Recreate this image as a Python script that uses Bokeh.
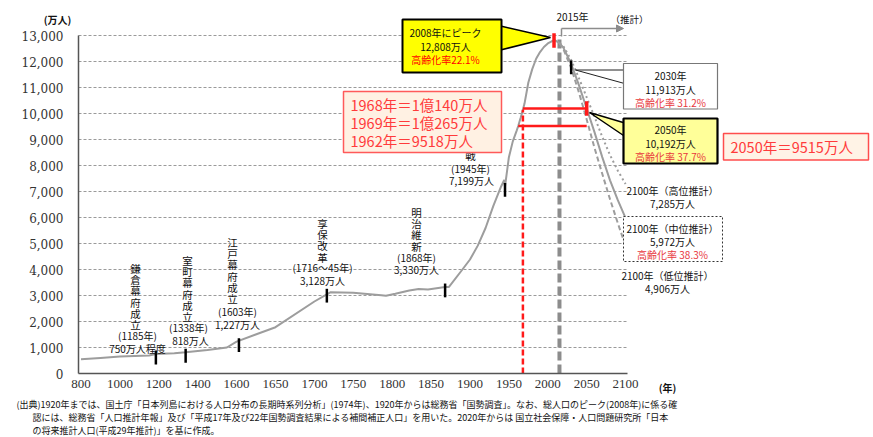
import numpy as np
from bokeh.plotting import figure
from bokeh.models import (Range1d, FixedTicker, Label, BoxAnnotation, PolyAnnotation,
                          Arrow, NormalHead)
from bokeh.embed import file_html
from bokeh.resources import INLINE

JP = "Noto Sans CJK JP"

# ---------------------------------------------------------------- data
# categories shown on the (unevenly spaced) year axis
tick_years = [800, 1000, 1200, 1400, 1600, 1650, 1700, 1750, 1800, 1850,
              1900, 1950, 2000, 2050, 2100]
y_ticks = [0, 1000, 2000, 3000, 4000, 5000, 6000, 7000, 8000, 9000,
           10000, 11000, 12000, 13000]
y_tick_labels = ["0", "1,000", "2,000", "3,000", "4,000", "5,000", "6,000",
                 "7,000", "8,000", "9,000", "10,000", "11,000", "12,000", "13,000"]

# total population (10 thousand persons)
hist_years = [800, 900, 1000, 1150, 1185, 1280, 1338, 1450, 1550, 1600, 1650,
              1700, 1721, 1750, 1786, 1792, 1804, 1822, 1834, 1846, 1868, 1873,
              1890, 1900, 1910, 1920, 1930, 1940, 1944, 1945, 1950, 1955, 1960,
              1962, 1965, 1968, 1969, 1970, 1975, 1980, 1985, 1990, 1995, 2000,
              2005, 2008, 2010, 2015]
hist_pop = [551, 600, 650, 690, 750, 780, 818, 900, 1000, 1227, 1781,
            2769, 3128, 3110, 3010, 2987, 3065, 3191, 3248, 3230, 3330, 3330,
            3990, 4385, 4918, 5596, 6445, 7193, 7443, 7199, 8320, 8928, 9342,
            9518, 9828, 10140, 10265, 10372, 11194, 11706, 12105, 12361, 12557, 12693,
            12777, 12808, 12806, 12709]

proj_years = [2015, 2020, 2030, 2040, 2050, 2060, 2070, 2080, 2090, 2100]
proj_mid = [12709, 12532, 11913, 11092, 10192, 9284, 8323, 7430, 6668, 5972]
proj_high = [12709, 12591, 12060, 11360, 10620, 9880, 9100, 8400, 7800, 7285]
proj_low = [12709, 12475, 11758, 10811, 9770, 8680, 7680, 6700, 5780, 4906]

# historical milestones marked on the curve
event_years = [1185, 1338, 1603, 1716, 1868, 1945, 2030]
event_pop = [750, 818, 1227, 3128, 3330, 7199, 11913]

peak_year, peak_pop = 2008, 12808
base_year = 2015
year_2050, pop_2050, pop_2050_alt = 2050, 10192, 9515
year_1968, year_1962 = 1968, 1962

# ---------------------------------------------------------------- geometry
W, H = 873, 437
LEFT, RIGHT, BOTTOM = 78, 627, 373   # plot area edges (pixels)
STEP = 38.9                          # pixels per axis category
PX_PER_UNIT = 26 / 1000              # pixels per 10k persons
X_LEFT = -2.5 / STEP                 # axis value at the plot area's left edge


def xpos(year):
    return np.interp(year, tick_years, np.arange(len(tick_years)))


def px_x(px):
    return X_LEFT + (px - LEFT) / STEP


def px_y(py):
    return (BOTTOM - py) / PX_PER_UNIT


# the frame fills the page; axes are pinned to the plot area
p = figure(width=W, height=H, x_range=Range1d(px_x(0), px_x(W)),
           y_range=Range1d(px_y(H), px_y(0)),
           output_backend="svg", toolbar_location=None,
           min_border=0, min_border_left=0, min_border_right=0,
           min_border_top=0, min_border_bottom=0)
p.outline_line_color = None
p.background_fill_color = "white"
p.grid.visible = False

for ax in (p.xaxis, p.yaxis):
    ax.axis_line_color = "#555555"
    ax.axis_line_width = 1.5
    ax.major_tick_line_color = None
    ax.minor_tick_line_color = None
    ax.major_tick_out = 0
    ax.major_tick_in = 0
    ax.major_label_text_font_size = "13px"
    ax.major_label_text_color = "#333333"

p.xaxis.major_label_text_font = "Liberation Serif"
p.yaxis.major_label_text_font = "DejaVu Serif"
p.yaxis.major_label_text_font_size = "12px"

p.xaxis.fixed_location = 0
p.xaxis.bounds = (px_x(LEFT), px_x(RIGHT))
p.xaxis.ticker = FixedTicker(ticks=list(range(len(tick_years))))
p.xaxis.major_label_overrides = {i: str(y) for i, y in enumerate(tick_years)}
p.xaxis.major_label_standoff = 6
p.yaxis.fixed_location = px_x(LEFT)
p.yaxis.bounds = (0, y_ticks[-1])
p.yaxis.ticker = FixedTicker(ticks=y_ticks)
p.yaxis.major_label_overrides = dict(zip(y_ticks, y_tick_labels))
p.yaxis.major_label_standoff = 15

GRAY = "#9d9d9d"
RED = "#ff1a1a"

# horizontal grid lines across the plot area
gy = y_ticks[1:]
p.segment(x0=[px_x(LEFT)] * len(gy), y0=gy, x1=[px_x(RIGHT)] * len(gy), y1=gy,
          line_color="#9a9a9a", line_width=1, line_dash="3 2")

# 2015 reference line (start of projections)
p.segment(x0=[xpos(base_year)], y0=[0], x1=[xpos(base_year)], y1=[y_ticks[-1]],
          line_color="#8c8c8c", line_width=4, line_dash="9 4")

# population curves
p.line(xpos(hist_years), hist_pop, line_color=GRAY, line_width=2)
p.line(xpos(proj_years), proj_mid, line_color=GRAY, line_width=2)
p.line(xpos(proj_years), proj_high, line_color=GRAY, line_width=2, line_dash="2 3")
p.line(xpos(proj_years), proj_low, line_color=GRAY, line_width=2, line_dash="5 3")

# comparison lines: 2050 level reached around 1968 / 1962
p.segment(x0=[xpos(year_1968)], y0=[0], x1=[xpos(year_1968)],
          y1=[hist_pop[hist_years.index(year_1968)]],
          line_color=RED, line_width=2.5, line_dash="6 3")
p.segment(x0=[xpos(year_1968), xpos(year_1962)], y0=[pop_2050, pop_2050_alt],
          x1=[xpos(year_2050), xpos(year_2050)], y1=[pop_2050, pop_2050_alt],
          line_color=RED, line_width=2.5)

# milestone ticks
ex = xpos(event_years)
p.segment(x0=ex, y0=np.array(event_pop) - 400, x1=ex, y1=np.array(event_pop) + 130,
          line_color="black", line_width=2.5)
p.segment(x0=[xpos(peak_year), xpos(year_2050)], y0=[peak_pop - 280, pop_2050 - 280],
          x1=[xpos(peak_year), xpos(year_2050)], y1=[peak_pop + 280, pop_2050 + 280],
          line_color=RED, line_width=3.5)


# ---------------------------------------------------------------- annotations
def text(px, py, s, size=10, color="#111111", align="center", bold=False, font=JP):
    p.add_layout(Label(x=px_x(px), y=px_y(py), text=s, text_font=font,
                       text_font_size=f"{size}px", text_color=color,
                       text_align=align, text_baseline="middle",
                       text_font_style="bold" if bold else "normal"))


def vtext(px, py0, s, step=11.2, size=10.5):
    for i, ch in enumerate(s):
        text(px, py0 + i * step, ch, size)


def box(l, t, r, b, fill, line, lw, dash="solid"):
    p.add_layout(BoxAnnotation(left=px_x(l), right=px_x(r), top=px_y(t), bottom=px_y(b),
                               fill_color=fill, fill_alpha=1, line_color=line,
                               line_alpha=1, line_width=lw, line_dash=dash))


def wedge(pts, fill, line, lw):
    p.add_layout(PolyAnnotation(xs=[px_x(a) for a, _ in pts], ys=[px_y(b) for _, b in pts],
                                fill_color=fill, fill_alpha=1, line_color=line,
                                line_alpha=1, line_width=lw))


# unit labels
text(57, 19, "(万人)", 10, bold=True)
text(667, 387, "(年)", 10, bold=True)

# era labels
vtext(135, 268, "鎌倉幕府成立")
text(137, 335, "(1185年)")
text(137, 348, "750万人程度")
vtext(187, 260, "室町幕府成立")
text(188, 327, "(1338年)")
text(190, 340, "818万人")
vtext(232, 242, "江戸幕府成立")
text(237, 311, "(1603年)")
text(237, 323.5, "1,227万人")
vtext(322, 223, "享保改革")
text(322, 267, "(1716～45年)")
text(322, 280, "3,128万人")
vtext(416, 212, "明治維新")
text(416, 257, "(1868年)")
text(416, 269, "3,330万人")
text(470, 155, "戦", 10.5)
text(470, 168, "(1945年)")
text(471, 180, "7,199万人")

# projection start marker
p.add_layout(Arrow(end=NormalHead(size=7, fill_color="#8c8c8c", line_color="#8c8c8c"),
                   x_start=px_x(561), y_start=px_y(28), x_end=px_x(623), y_end=px_y(28),
                   line_color="#8c8c8c", line_width=1.5))
p.add_layout(Arrow(end=None, x_start=px_x(561), y_start=px_y(28), x_end=px_x(561),
                   y_end=px_y(36), line_color="#8c8c8c", line_width=1.5))
text(572, 16, "2015年", 10)
text(629, 18, "（推計）", 9.5)

# peak callout
wedge([(498, 25), (550, 37), (498, 50)], "#ffff00", "black", 1.5)
box(402, 19, 501, 72, "#ffff00", "black", 2)
text(445, 32, "2008年にピーク")
text(445, 45.5, "12,808万人")
text(445, 59, "高齢化率22.1%", color="#ff0000")

# comparison box
box(343, 91, 501, 152, "#fff1e3", "#ff5a5a", 1.5)
text(350, 103.5, "1968年＝1億140万人", 14.5, color="#ff3b3b", align="left")
text(350, 121.5, "1969年＝1億265万人", 14.5, color="#ff3b3b", align="left")
text(350, 139.5, "1962年＝9518万人", 14.5, color="#ff3b3b", align="left")

# 2030 callout
wedge([(624, 69.5), (575, 69.5), (624, 83)], "white", "#222222", 1)
box(623, 63, 717, 108.5, "white", "#777777", 1.2)
text(670, 75, "2030年")
text(670, 88.5, "11,913万人")
text(670, 101.5, "高齢化率 31.2%", color="#e8383d")

# 2050 callout
wedge([(626, 123), (589, 112), (626, 137)], "#ffff99", "black", 1.5)
box(623, 118, 717, 163, "#ffff99", "black", 2.2)
text(670, 128.5, "2050年")
text(670, 142.5, "10,192万人")
text(670, 155.5, "高齢化率 37.7%", color="#e8383d")

box(723, 133, 868, 159.5, "#fff3e6", "#ff4d4d", 1.5)
text(730, 146, "2050年＝9515万人", 14.5, color="#ff3b3b", align="left")

# 2100 labels
text(672, 190, "2100年（高位推計）")
text(672, 203, "7,285万人")
box(623, 216, 722, 261, "white", "#333333", 1, "2 2")
text(672, 227.5, "2100年（中位推計）")
text(672, 240.5, "5,972万人")
text(672, 253.5, "高齢化率 38.3%", color="#e8383d")
text(667, 275, "2100年（低位推計）")
text(667, 288, "4,906万人")

# source note
note = [
    "(出典)1920年までは、国土庁「日本列島における人口分布の長期時系列分析」(1974年)、1920年からは総務省「国勢調査」。なお、総人口のピーク(2008年)に係る確",
    "認には、総務省「人口推計年報」及び「平成17年及び22年国勢調査結果による補間補正人口」を用いた。2020年からは 国立社会保障・人口問題研究所「日本",
    "の将来推計人口(平成29年推計)」を基に作成。",
]
text(16, 404, note[0], 9, align="left")
text(32, 417, note[1], 9, align="left")
text(32, 430, note[2], 9, align="left")

open("out.html", "w").write(file_html(p, INLINE))
